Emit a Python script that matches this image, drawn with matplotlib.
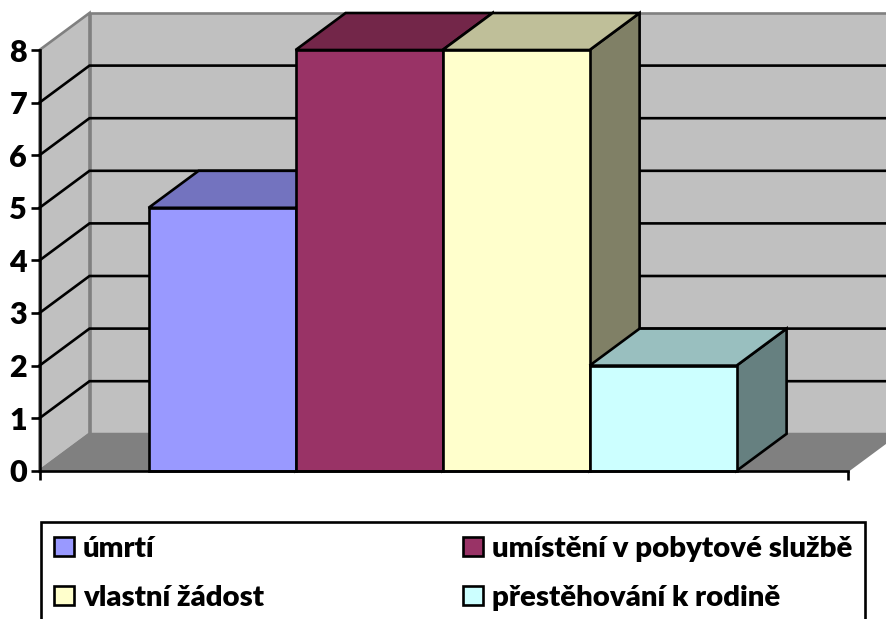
import matplotlib
matplotlib.use("Agg")
import matplotlib.pyplot as plt
from matplotlib.patches import Polygon, Patch

plt.rcParams['font.family'] = ['Lato', 'DejaVu Sans']
plt.rcParams['font.weight'] = 'bold'

categories = ["úmrtí", "umístění v pobytové službě", "vlastní žádost", "přestěhování k rodině"]
values = [5, 8, 8, 2]
y_ticks = [0, 1, 2, 3, 4, 5, 6, 7, 8]
front_colors = ["#9999FF", "#993366", "#FFFFCC", "#CCFFFF"]
top_colors = ["#7373BF", "#732649", "#BFBF99", "#99BFBF"]
side_colors = ["#666699", "#4D1A33", "#808066", "#668080"]

W, H = 886, 619
PX_X, PX_Y = 147.0, 52.6      # pixels per category / per value
X0_PX, Y0_PX = 148.6, 470.8   # pixel position of first bar edge / zero line
DX = 50.0 / PX_X              # depth offset in data units
DY = 37.0 / PX_Y
LEFT = (39.5 - X0_PX) / PX_X
RIGHT = (848 - X0_PX) / PX_X
YMAX = max(y_ticks)

fig = plt.figure(figsize=(W / 100, H / 100), dpi=100, facecolor='white')
ax = fig.add_axes([0, 0, 1, 1])
ax.set_xlim(-X0_PX / PX_X, (W - X0_PX) / PX_X)
ax.set_ylim(-(H - Y0_PX) / PX_Y, Y0_PX / PX_Y)
ax.patch.set_visible(False)

wall_edge = "#808080"
LW = 1.9
# back wall
ax.add_patch(Polygon([(LEFT + DX, DY), (RIGHT + DX, DY), (RIGHT + DX, YMAX + DY), (LEFT + DX, YMAX + DY)],
                     fc="#C0C0C0", ec=wall_edge, lw=LW, zorder=1))
# side wall
ax.add_patch(Polygon([(LEFT, 0), (LEFT + DX, DY), (LEFT + DX, YMAX + DY), (LEFT, YMAX)],
                     fc="#C0C0C0", ec=wall_edge, lw=LW, zorder=1))
# floor
ax.add_patch(Polygon([(LEFT, 0), (RIGHT, 0), (RIGHT + DX, DY), (LEFT + DX, DY)],
                     fc="#808080", ec=wall_edge, lw=1.5, zorder=1))
# gridlines
for v in y_ticks[1:-1]:
    ax.plot([LEFT, LEFT + DX, RIGHT + DX], [v, v + DY, v + DY], color="black", lw=LW, zorder=2,
            solid_joinstyle='miter')

# bars
for i, v in enumerate(values):
    z = 3 + i
    ax.add_patch(Polygon([(i + 1, 0), (i + 1 + DX, DY), (i + 1 + DX, v + DY), (i + 1, v)],
                         fc=side_colors[i], ec="black", lw=LW, zorder=z))
    ax.add_patch(Polygon([(i, v), (i + DX, v + DY), (i + 1 + DX, v + DY), (i + 1, v)],
                         fc=top_colors[i], ec="black", lw=LW, zorder=z))
    ax.add_patch(Polygon([(i, 0), (i + 1, 0), (i + 1, v), (i, v)],
                         fc=front_colors[i], ec="black", lw=LW, zorder=z + 0.5))

# axes
for s in ('top', 'right'):
    ax.spines[s].set_visible(False)
ax.spines['left'].set_position(('data', LEFT))
ax.spines['left'].set_bounds(0, YMAX)
ax.spines['bottom'].set_position(('data', 0))
ax.spines['bottom'].set_bounds(LEFT, RIGHT)
for s in ('left', 'bottom'):
    ax.spines[s].set_linewidth(LW)
    ax.spines[s].set_zorder(10)
ax.set_yticks(y_ticks)
ax.set_yticklabels([str(t) for t in y_ticks], fontsize=22, fontweight='heavy')
ax.set_xticks([LEFT, RIGHT])
ax.set_xticklabels([])
ax.tick_params(axis='both', direction='out', length=6.5, width=LW, color='black', zorder=10)
ax.tick_params(axis='y', pad=2.5)

# legend
handles = [Patch(fc=c, ec="black", lw=LW, label=l) for c, l in zip(front_colors, categories)]
order = [0, 2, 1, 3]
leg = ax.legend([handles[i] for i in order], [categories[i] for i in order], ncol=2,
                loc='upper left', bbox_to_anchor=(40.5 / W, 1 - 522 / H), bbox_transform=fig.transFigure,
                prop={'weight': 'heavy', 'size': 21.2, 'family': ['Lato', 'DejaVu Sans']},
                frameon=True, fancybox=False, framealpha=1, edgecolor='black',
                borderpad=0.46, borderaxespad=0, handlelength=0.68, handleheight=0.62,
                handletextpad=0.3, columnspacing=6.75, labelspacing=0.8)
leg.get_frame().set_linewidth(LW)
leg.set_zorder(20)

fig.savefig("out.png", dpi=100)
